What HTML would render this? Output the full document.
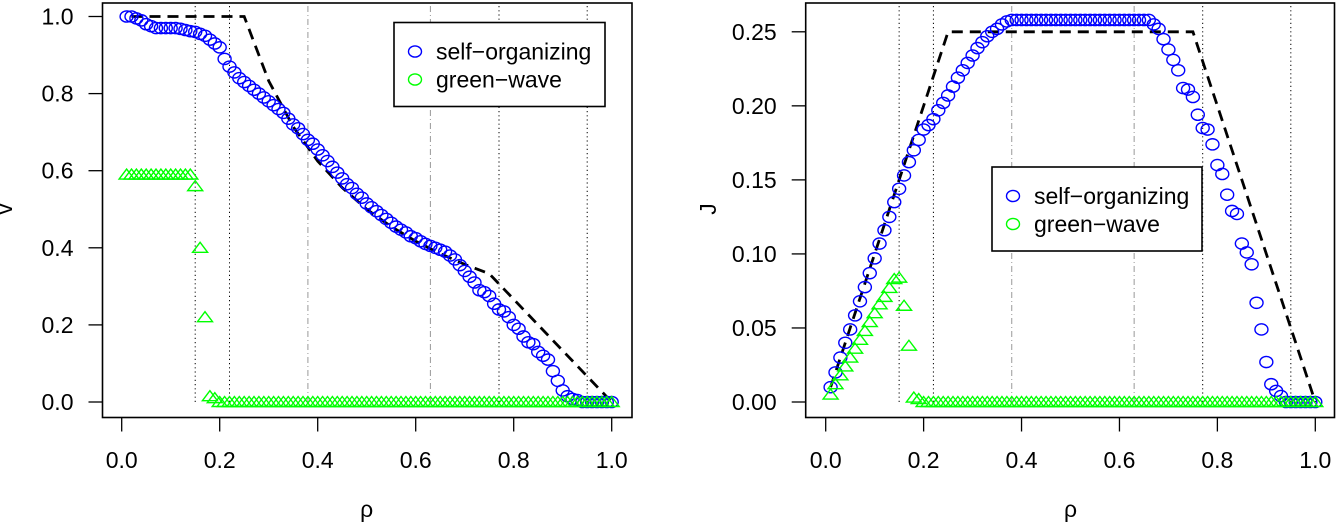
<!DOCTYPE html>
<html><head><meta charset="utf-8">
<style>
html,body{margin:0;padding:0;background:#fff;}
svg{display:block;font-family:"Liberation Sans",Arial,sans-serif;}
</style></head>
<body>
<svg id="chart" width="1336" height="525" viewBox="0 0 1336 525" xmlns="http://www.w3.org/2000/svg"></svg>
<script>
const rho = [];
for (let i = 1; i <= 100; i++) rho.push(i / 100);
const vSelf = [1.0,1.0,0.995,0.99,0.98,0.975,0.97,0.97,0.97,0.97,0.97,0.968,0.965,0.962,0.96,0.955,0.95,0.94,0.93,0.92,
0.89,0.87,0.855,0.84,0.83,0.82,0.81,0.80,0.79,0.78,0.77,0.76,0.75,0.735,0.72,0.71,0.695,0.68,0.67,0.655,
0.64,0.625,0.61,0.595,0.58,0.565,0.555,0.54,0.53,0.515,0.505,0.495,0.485,0.475,0.465,0.455,0.447,0.44,0.43,0.425,
0.417,0.41,0.405,0.40,0.395,0.39,0.38,0.37,0.355,0.34,0.325,0.31,0.29,0.285,0.275,0.255,0.24,0.235,0.22,0.20,
0.19,0.17,0.155,0.15,0.13,0.12,0.11,0.08,0.055,0.03,0.015,0.008,0.005,0,0,0,0,0,0,0];
const vGreen = [0.59,0.59,0.59,0.59,0.59,0.59,0.59,0.59,0.59,0.59,0.59,0.59,0.59,0.59,0.56,0.40,0.22,0.015,0.01,0,
0,0,0,0,0,0,0,0,0,0,0,0,0,0,0,0,0,0,0,0,0,0,0,0,0,0,0,0,0,0,0,0,0,0,0,0,0,0,0,0,
0,0,0,0,0,0,0,0,0,0,0,0,0,0,0,0,0,0,0,0,0,0,0,0,0,0,0,0,0,0,0,0,0,0,0,0,0,0,0,0];
const jSelf = [0.01,0.02,0.03,0.04,0.049,0.0585,0.068,0.0776,0.087,0.097,0.107,0.116,0.125,0.135,0.144,0.153,0.162,0.17,0.177,0.184,
0.187,0.191,0.197,0.202,0.207,0.213,0.219,0.224,0.229,0.234,0.239,0.243,0.247,0.25,0.252,0.255,0.257,0.258,0.258,0.258,
0.258,0.258,0.258,0.258,0.258,0.258,0.258,0.258,0.258,0.258,0.258,0.258,0.258,0.258,0.258,0.258,0.258,0.258,0.258,0.258,
0.258,0.258,0.258,0.258,0.258,0.258,0.255,0.252,0.245,0.238,0.231,0.224,0.212,0.211,0.206,0.194,0.185,0.184,0.174,0.16,
0.154,0.14,0.129,0.127,0.107,0.101,0.093,0.067,0.049,0.027,0.012,0.0075,0.004,0,0,0,0,0,0,0];
const jGreen = [0.005,0.012,0.018,0.024,0.03,0.036,0.042,0.048,0.054,0.06,0.066,0.071,0.077,0.083,0.084,0.065,0.038,0.003,0.002,0,
0,0,0,0,0,0,0,0,0,0,0,0,0,0,0,0,0,0,0,0,0,0,0,0,0,0,0,0,0,0,0,0,0,0,0,0,0,0,0,0,
0,0,0,0,0,0,0,0,0,0,0,0,0,0,0,0,0,0,0,0,0,0,0,0,0,0,0,0,0,0,0,0,0,0,0,0,0,0,0,0];
const theoryVx = [0.02,0.25,0.30,0.35,0.40,0.45,0.50,0.55,0.60,0.65,0.70,0.75,1.0];
const theoryVy = [1.0,1.0,0.833,0.714,0.625,0.556,0.5,0.455,0.417,0.385,0.357,0.333,0.0];
const theoryJx = [0.01,0.25,0.75,1.0];
const theoryJy = [0.01,0.25,0.25,0.0];
const dottedRefs = [0.15,0.22,0.77,0.95];
const dashdotRefs = [0.38,0.63];
const xTicks = [0,0.2,0.4,0.6,0.8,1.0];
const xTickLabels = ["0.0","0.2","0.4","0.6","0.8","1.0"];
const vTicks = [0,0.2,0.4,0.6,0.8,1.0];
const vTickLabels = ["0.0","0.2","0.4","0.6","0.8","1.0"];
const jTicks = [0,0.05,0.10,0.15,0.20,0.25];
const jTickLabels = ["0.00","0.05","0.10","0.15","0.20","0.25"];
const legendLabels = ["self\u2212organizing","green\u2212wave"];

const NS = "http://www.w3.org/2000/svg";
const svg = document.getElementById('chart');
function mk(tag, attrs, parent) {
  const e = document.createElementNS(NS, tag);
  for (const k in attrs) e.setAttribute(k, attrs[k]);
  (parent || svg).appendChild(e);
  return e;
}

function panel(cfg) {
  const g = mk('g', {});
  
  
  const sx = v => cfg.x0 + (cfg.x1 - cfg.x0) * v;
  const sy = v => cfg.y0 + (cfg.y1 - cfg.y0) * (v / cfg.ymax);
  dottedRefs.forEach(r => {
    const l = mk('line', {x1: sx(r), x2: sx(r), y1: sy(0), y2: cfg.top + 2, stroke: '#000', 'stroke-width': 1, 'stroke-dasharray': '1.2 3'}, g);
    
    
  });
  dashdotRefs.forEach(r => {
    const l = mk('line', {x1: sx(r), x2: sx(r), y1: sy(0), y2: cfg.top + 2, stroke: '#999', 'stroke-width': 1, 'stroke-dasharray': '6 3 1 3'}, g);
    
    
  });
  const tp = cfg.tx.map((x, i) => sx(x) + ',' + sy(cfg.ty[i])).join(' ');
  const th = mk('polyline', {points: tp, fill: 'none', stroke: '#000', 'stroke-width': 2.8, 'stroke-dasharray': '11 7'}, g);
  
  
  rho.forEach((r, i) => {
    const c = mk('ellipse', {cx: sx(r), cy: sy(cfg.self[i]), rx: 6.5, ry: 5.6, fill: 'none', stroke: '#0000ff', 'stroke-width': 1.4}, g);
    
    
  });
  rho.forEach((r, i) => {
    const x = sx(r), y = sy(cfg.green[i]);
    const t = mk('polygon', {points: `${x-7.5},${y+4.5} ${x+7.5},${y+4.5} ${x},${y-5.5}`, fill: 'none', stroke: '#00ff00', 'stroke-width': 1.4}, g);
    
    
  });
  const b = mk('rect', {x: cfg.bx0, y: cfg.top, width: cfg.bx1 - cfg.bx0, height: cfg.bottom - cfg.top, fill: 'none', stroke: '#000', 'stroke-width': 1.6}, g);
  
  
  xTicks.forEach((t, i) => {
    const tl = mk('line', {x1: sx(t), x2: sx(t), y1: cfg.bottom, y2: cfg.bottom + 14, stroke: '#000', 'stroke-width': 1.3}, g);
    
    
    const tx = mk('text', {x: sx(t), y: 468, 'text-anchor': 'middle', 'font-size': 23}, g);
    tx.textContent = xTickLabels[i];
    
    
  });
  cfg.yt.forEach((t, i) => {
    const tl = mk('line', {x1: cfg.bx0, x2: cfg.bx0 - 14, y1: sy(t), y2: sy(t), stroke: '#000', 'stroke-width': 1.3}, g);
    
    
    const tx = mk('text', {x: cfg.bx0 - 29, y: sy(t) + 8, 'text-anchor': 'end', 'font-size': 23}, g);
    tx.textContent = cfg.ytl[i];
    
    
  });
  const xl = mk('text', {x: (sx(0) + sx(1)) / 2, y: 517, 'text-anchor': 'middle', 'font-size': 23}, g);
  xl.textContent = 'ρ';
  
  
  const yl = mk('text', {x: 0, y: 0, 'text-anchor': 'middle', 'font-size': 23, transform: `translate(${cfg.ylx},209) rotate(-90)`}, g);
  yl.textContent = cfg.ylabel;
  
  
  const lg = mk('g', {}, g);
  
  
  const L = cfg.legend;
  mk('rect', {x: L.x, y: L.y, width: L.w, height: L.h, fill: '#fff', stroke: '#000', 'stroke-width': 1.6}, lg);
  legendLabels.forEach((lab, i) => {
    const cy = L.y + 29 + i * 28;
    const c = mk('ellipse', {cx: L.x + 21, cy: cy, rx: 6.5, ry: 5.6, fill: 'none', stroke: i === 0 ? '#0000ff' : '#00ff00', 'stroke-width': 1.4}, lg);
    
    
    const t = mk('text', {x: L.x + 42, y: cy + 8, 'font-size': 23}, lg);
    t.textContent = lab;
    
    
  });
}

panel({name: 'velocity-panel', x0: 121.7, x1: 611.7, y0: 402, y1: 16.5, ymax: 1.0,
  bx0: 102.5, bx1: 632, top: 3, bottom: 417.5,
  self: vSelf, green: vGreen, tx: theoryVx, ty: theoryVy,
  yt: vTicks, ytl: vTickLabels, ylabel: 'v', ylx: 12,
  legend: {x: 394, y: 22.5, w: 211, h: 84}});
panel({name: 'flux-panel', x0: 825.7, x1: 1315.3, y0: 402, y1: 31.8, ymax: 0.25,
  bx0: 805.7, bx1: 1334.5, top: 3, bottom: 417.5,
  self: jSelf, green: jGreen, tx: theoryJx, ty: theoryJy,
  yt: jTicks, ytl: jTickLabels, ylabel: 'J', ylx: 716,
  legend: {x: 992, y: 167, w: 210, h: 84}});
</script>
</body></html>
